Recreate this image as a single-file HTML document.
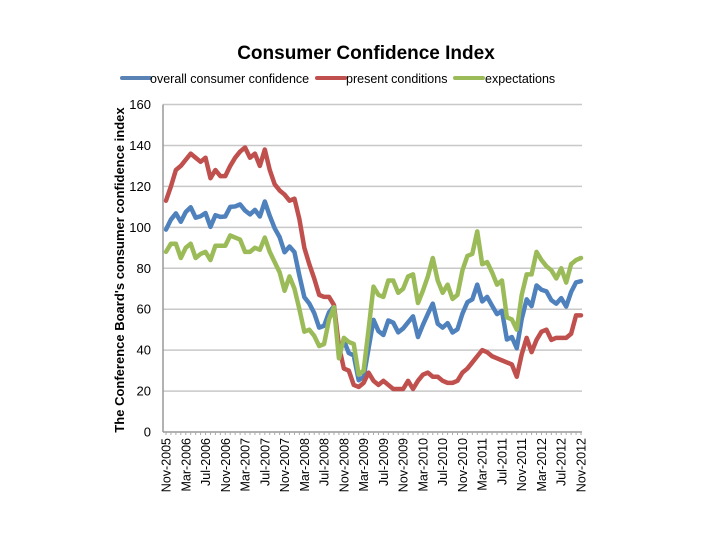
<!DOCTYPE html>
<html><head><meta charset="utf-8"><style>
body{margin:0;background:#fff;width:720px;height:540px;overflow:hidden;font-family:"Liberation Sans",sans-serif}
</style></head><body>
<svg id="chart" width="720" height="540" xmlns="http://www.w3.org/2000/svg">
<text x="366" y="59" text-anchor="middle" font-size="19" font-weight="bold" font-family="Liberation Sans">Consumer Confidence Index</text>
<g font-size="12.5" font-family="Liberation Sans">
<line x1="122" y1="78" x2="150" y2="78" stroke="#5a83b5" stroke-width="4" stroke-linecap="round"/>
<text x="150" y="83">overall consumer confidence</text>
<line x1="317" y1="78" x2="345" y2="78" stroke="#bf504d" stroke-width="4" stroke-linecap="round"/>
<text x="346" y="83">present conditions</text>
<line x1="455" y1="78" x2="483" y2="78" stroke="#9bbb59" stroke-width="4" stroke-linecap="round"/>
<text x="485" y="83">expectations</text>
</g>
<text transform="translate(124,270) rotate(-90)" text-anchor="middle" font-size="13" font-weight="bold" font-family="Liberation Sans">The Conference Board's consumer confidence index</text>
<g id="grid"></g><g id="series"></g><g id="axes"></g>
</svg>
<script>
const xLabels=["Nov-2005","Mar-2006","Jul-2006","Nov-2006","Mar-2007","Jul-2007","Nov-2007","Mar-2008","Jul-2008","Nov-2008","Mar-2009","Jul-2009","Nov-2009","Mar-2010","Jul-2010","Nov-2010","Mar-2011","Jul-2011","Nov-2011","Mar-2012","Jul-2012","Nov-2012"];
const yTicks=[0,20,40,60,80,100,120,140,160];
const overall=[98.9,103.8,106.8,102.7,107.5,109.8,104.7,105.4,107.0,100.2,105.9,105.1,105.3,110.0,110.2,111.2,108.2,106.3,108.5,105.3,112.6,105.6,99.5,95.2,87.8,90.6,87.9,76.4,65.9,62.8,58.1,51.0,51.9,58.5,61.4,38.8,44.7,38.6,37.4,25.3,26.9,40.8,54.8,49.3,47.4,54.5,53.4,48.7,50.6,53.6,56.5,46.4,52.3,57.7,62.7,52.9,51.0,53.2,48.6,50.2,57.8,63.4,64.8,72.0,63.8,66.0,61.7,57.6,59.2,45.2,46.4,40.9,55.2,64.8,61.5,71.6,69.5,68.7,64.4,62.7,65.4,61.3,68.4,73.1,73.7];
const present=[113,120,128,130,133,136,134,132,134,124,128,125,125,130,134,137,139,134,136,130,138,128,121,118,116,113,114,104,90,82,75,67,66,66,62,42,31,30,23,22,24,29,25,23,25,23,21,21,21,25,21,25,28,29,27,27,25,24,24,25,29,31,34,37,40,39,37,36,35,34,33,27,38,46,39,45,49,50,45,46,46,46,48,57,57];
const expectations=[88,92,92,85,90,92,85,87,88,84,91,91,91,96,95,94,88,88,90,89,95,88,83,78,69,76,70,60,49,50,47,42,43,55,61,36,46,44,43,28,30,50,71,67,66,74,74,68,70,76,77,63,69,76,85,74,68,72,65,67,79,86,87,98,82,83,78,72,74,56,55,50,67,77,77,88,84,81,79,75,80,73,82,84,85];
const NS="http://www.w3.org/2000/svg";
const X0=166,X1=581,Y0=432,Y1=104.5;
const xs=i=>X0+(X1-X0)*i/84;
const ys=v=>Y0-(Y0-Y1)*v/160;
function mk(tag,attrs,parent){const e=document.createElementNS(NS,tag);for(const k in attrs)e.setAttribute(k,attrs[k]);parent.appendChild(e);return e;}
const grid=document.getElementById('grid'),axes=document.getElementById('axes'),ser=document.getElementById('series');
yTicks.forEach(v=>{
 const g=mk('line',{x1:163,x2:582,y1:ys(v),y2:ys(v),stroke:v===0?'#999':'#c8c8c8','stroke-width':1.5},grid);
 
 
 const t=mk('text',{x:151,y:ys(v)+4.5,'text-anchor':'end','font-size':13,'font-family':'Liberation Sans'},axes);
 t.textContent=v;
 
 
});
mk('line',{x1:163,x2:163,y1:Y1,y2:Y0,stroke:'#999','stroke-width':1.5},axes);
for(let i=0;i<=84;i++){mk('line',{x1:xs(i),x2:xs(i),y1:Y0,y2:Y0+3,stroke:'#aaa','stroke-width':1},axes);}
xLabels.forEach((l,k)=>{
 const x=xs(k*4);
 const t=mk('text',{transform:`translate(${x+4.5},${Y0+6}) rotate(-90)`,'text-anchor':'end','font-size':12.5,'font-family':'Liberation Sans'},axes);
 t.textContent=l;
 
 
});
function line(data,color,name){
 const p=mk('polyline',{points:data.map((v,i)=>xs(i)+','+ys(v)).join(' '),fill:'none',stroke:color,'stroke-width':4.5,'stroke-linejoin':'round','stroke-linecap':'round'},ser);
 
 
}
line(overall,'#4f81bd','series-overall');
line(present,'#c0504d','series-present');
line(expectations,'#9bbb59','series-expectations');
</script>
</body></html>
